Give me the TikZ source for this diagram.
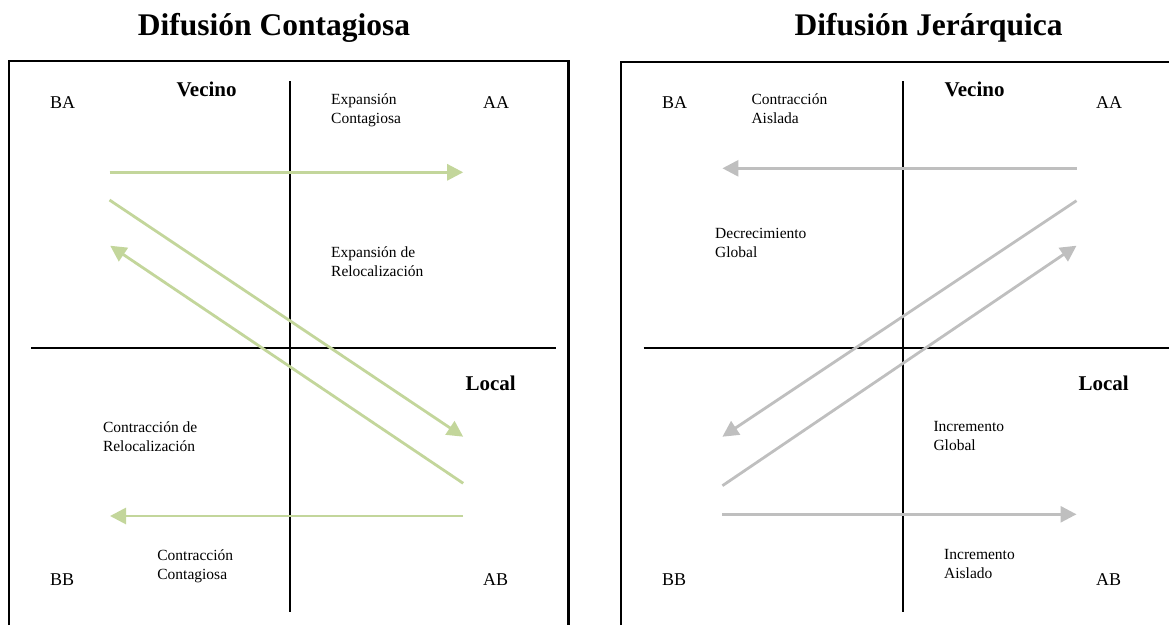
\documentclass[tikz,border=0pt]{standalone}
\usepackage{fontspec}
\setmainfont{Liberation Serif}
\usetikzlibrary{arrows.meta}

\definecolor{contagio}{HTML}{C3D69B}
\definecolor{jerarquia}{HTML}{BFBFBF}

\tikzset{
  titulo/.style={font=\fontsize{31.5}{36}\selectfont\bfseries, anchor=base, inner sep=0pt},
  eje/.style={font=\fontsize{21}{25}\selectfont\bfseries, anchor=base west, inner sep=0pt},
  esquina/.style={font=\fontsize{18}{22}\selectfont, anchor=base west, inner sep=0pt},
  proceso/.style={font=\fontsize{15.5}{19}\selectfont, anchor=north west, inner sep=0pt, align=left},
  flecha/.style={line width=2.8pt, -{Triangle[length=16pt,width=16pt]}},
}

\begin{document}
\begin{tikzpicture}[x=1pt,y=-1pt]
		\useasboundingbox (0,0) rectangle (1169,625);
		% titles
		\node[titulo] (tit-c) at (274,35) {Difusión Contagiosa};
		\node[titulo] (tit-j) at (928.6,35) {Difusión Jerárquica};
		% frames (open at the bottom)
		\draw[line width=2.3pt] (9,625) -- (9,61) -- (568.6,61) -- (568.6,625);
		\draw[line width=2.3pt] (621,625) -- (621,62) -- (1169,62);
		% axes
		\foreach \x/\a/\b in {289.7/31/556, 902.6/643.6/1169}
		{
			\draw[line width=2pt] (\x,81) -- (\x,612);
			\draw[line width=2pt] (\a,348) -- (\b,348);
		}
		% axis names
		\node[eje] (vec-c) at (176.5,96) {Vecino};
		\node[eje] (loc-c) at (465.4,390) {Local};
		\node[eje] (vec-j) at (944.4,96) {Vecino};
		\node[eje] (loc-j) at (1078.3,390) {Local};
		% corner labels
		\foreach \lab/\x/\y in {BA/50/108, AA/482.8/108, BB/50/585.7, AB/482.8/585.7}
		{
			\node[esquina] (\lab-c) at (\x,\y) {\lab};
		}
		\foreach \lab/\x/\y in {BA/662/108, AA/1096/108, BB/662/585.7, AB/1096/585.7}
		{
			\node[esquina] (\lab-j) at (\x,\y) {\lab};
		}
		% processes, contagious diffusion
		\node[proceso] (expcont) at (331,93.5) {Expansión\\Contagiosa};
		\node[proceso] (exprel) at (331,246.5) {Expansión de\\Relocalización};
		\node[proceso] (contrel) at (102.8,421.9) {Contracción de\\Relocalización};
		\node[proceso] (contcont) at (157.2,549.2) {Contracción\\Contagiosa};
		% processes, hierarchical diffusion
		\node[proceso] (contais) at (751.3,93.2) {Contracción\\Aislada};
		\node[proceso] (decglob) at (715,227.7) {Decrecimiento\\Global};
		\node[proceso] (incglob) at (933.3,420.9) {Incremento\\Global};
		\node[proceso] (incais) at (944,549.2) {Incremento\\Aislado};
		% arrow ends, contagious diffusion
		\coordinate (c1a) at (109.5,172.3);
		\coordinate (c1b) at (463.2,172.3);
		\coordinate (c2a) at (109.5,200);
		\coordinate (c2b) at (463.2,436.7);
		\coordinate (c3a) at (463.2,483.3);
		\coordinate (c3b) at (110.2,245.7);
		\coordinate (c4a) at (463.2,516);
		\coordinate (c4b) at (110,516);
		% arrow ends, hierarchical diffusion
		\coordinate (j1a) at (1076.5,168.3);
		\coordinate (j1b) at (722.4,168.3);
		\coordinate (j2a) at (1076.5,200.7);
		\coordinate (j2b) at (722.4,436.7);
		\coordinate (j3a) at (722.4,485.7);
		\coordinate (j3b) at (1076.5,245.7);
		\coordinate (j4a) at (722.4,514.3);
		\coordinate (j4b) at (1076.5,514.3);
		% arrows
		\foreach \i in {1,...,4}
		{
			\draw[flecha, contagio] (c\i a) -- (c\i b);
			\draw[flecha, jerarquia] (j\i a) -- (j\i b);
		}
	\end{tikzpicture}
\end{document}
